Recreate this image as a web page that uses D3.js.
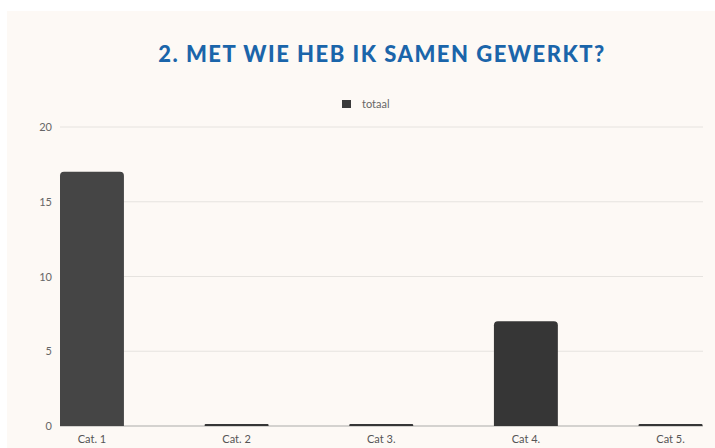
<!DOCTYPE html>
<html>
<head>
<meta charset="utf-8">
<script src="https://cdn.jsdelivr.net/npm/d3@7"></script>
<style>
    body { margin: 0; background: #fff; }
    .tick-label { font-family: Lato, sans-serif; font-size: 11px; fill: #666; }
    .chart-title { font-family: Lato, sans-serif; font-weight: 900; font-size: 22px; letter-spacing: 1.5px; fill: #1b65aa; }
</style>
</head>
<body>
<div id="chart"></div>
<script>
'use strict';

var categories = ['Cat. 1', 'Cat. 2', 'Cat 3.', 'Cat 4.', 'Cat 5.'];
var totaal = [17, 0, 0, 7, 0];
var barColors = ['#454545', '#363636', '#363636', '#363636', '#363636'];
var yTicks = [0, 5, 10, 15, 20];

var W = 715, H = 448;
var margin = {top: 127, right: 12, bottom: 22, left: 60},
    width = W - margin.left - margin.right,
    height = H - margin.top - margin.bottom;

var svg = d3.select('#chart').append('svg')
    .attr('width', W)
    .attr('height', H);

// panel background
svg.append('rect')
    .attr('x', 7).attr('y', 11)
    .attr('width', W - 7).attr('height', H - 11)
    .attr('fill', '#fdf9f5');

svg.append('text')
    .attr('class', 'chart-title')
    .attr('x', 382)
    .attr('y', 62)
    .attr('text-anchor', 'middle')
    .text('2. MET WIE HEB IK SAMEN GEWERKT?');

var g = svg.append('g')
    .attr('transform', 'translate(' + margin.left + ',' + margin.top + ')');

var x = d3.scaleBand()
    .domain(categories)
    .range([0, width - 0.5])
    .paddingInner(0.558)
    .paddingOuter(0);

var y = d3.scaleLinear()
    .domain([0, 20])
    .range([height, 0]);

// grid lines
g.append('g')
    .selectAll('line')
    .data(yTicks)
    .enter().append('line')
    .attr('x1', 0)
    .attr('x2', width)
    .attr('y1', function(d) { return y(d); })
    .attr('y2', function(d) { return y(d); })
    .attr('stroke', function(d) { return d === 0 ? '#d4d2cf' : '#e6e3df'; })
    .attr('stroke-width', function(d) { return d === 0 ? 2 : 1; });

// y axis labels
var yAxis = d3.axisLeft(y).tickValues(yTicks).tickSize(0).tickPadding(8);
g.append('g')
    .call(yAxis)
    .call(function(a) { a.select('.domain').remove(); })
    .selectAll('text')
    .attr('class', 'tick-label')
    .attr('font-family', null)
    .attr('font-size', null)
    .attr('fill', null);

// x axis labels
var xAxis = d3.axisBottom(x).tickSize(0).tickPadding(9);
g.append('g')
    .attr('transform', 'translate(0,' + height + ')')
    .call(xAxis)
    .call(function(a) { a.select('.domain').remove(); })
    .selectAll('text')
    .attr('class', 'tick-label')
    .attr('font-family', null)
    .attr('font-size', null)
    .attr('fill', null)
    .style('fill', '#555');

// bars with rounded tops; zero values still drawn as a thin 2px bar
function barPath(d, i) {
    var x0 = x(categories[i]), w = x.bandwidth();
    var top = Math.min(y(d), y(0) - 2);
    var h = y(0) - top;
    var r = Math.min(4, h / 2);
    return 'M' + x0 + ',' + y(0) +
        'V' + (top + r) +
        'Q' + x0 + ',' + top + ' ' + (x0 + r) + ',' + top +
        'H' + (x0 + w - r) +
        'Q' + (x0 + w) + ',' + top + ' ' + (x0 + w) + ',' + (top + r) +
        'V' + y(0) + 'Z';
}

g.append('g')
    .selectAll('path')
    .data(totaal)
    .enter().append('path')
    .attr('d', barPath)
    .attr('fill', function(d, i) { return barColors[i]; });

// legend
var legend = svg.append('g').attr('transform', 'translate(342,100)');
legend.append('rect')
    .attr('width', 9).attr('height', 8)
    .attr('fill', '#3a3a3a');
legend.append('text')
    .attr('class', 'tick-label')
    .attr('x', 20)
    .attr('y', 8)
    .style('fill', '#666')
    .text('totaal');
</script>
</body>
</html>
